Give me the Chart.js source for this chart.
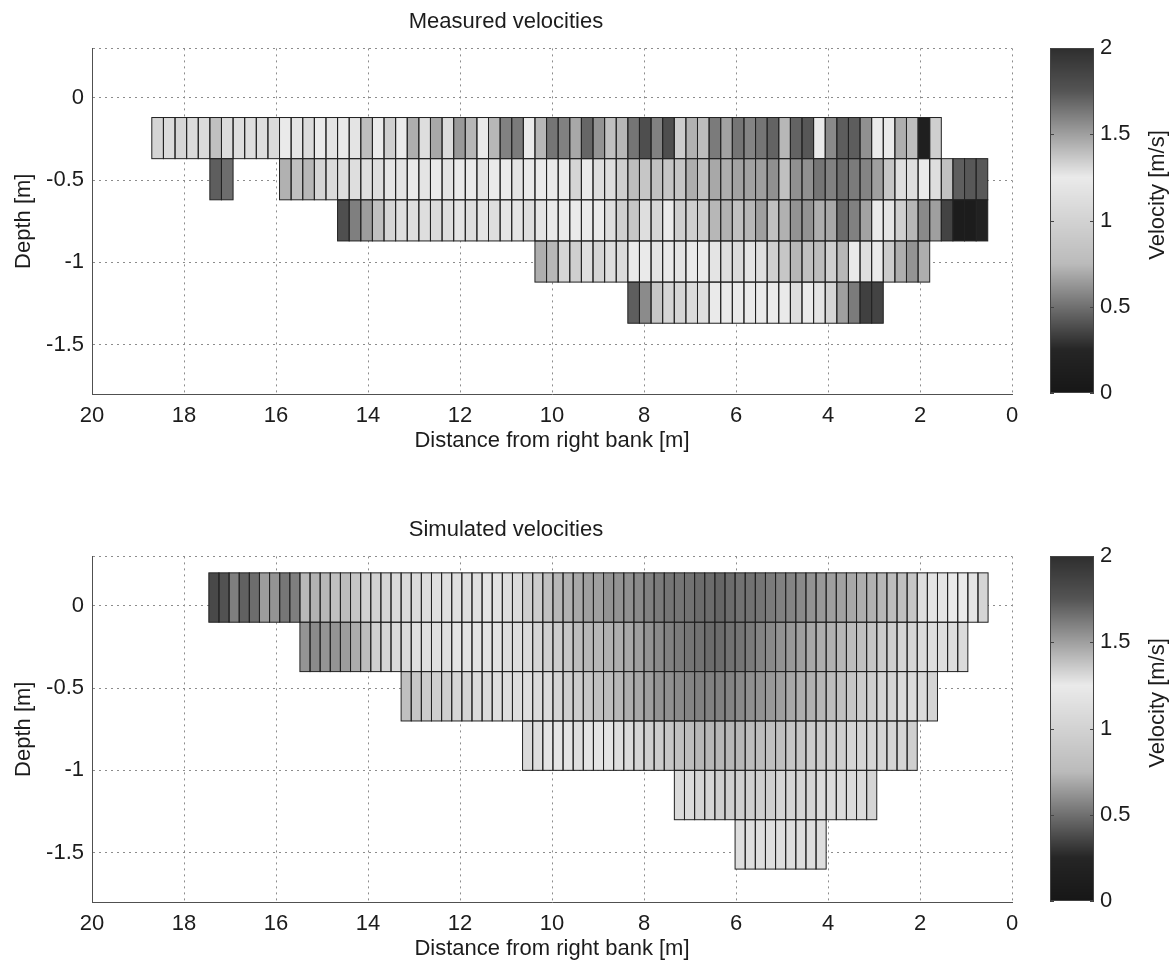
<!DOCTYPE html>
<html>
<head>
<meta charset="utf-8">
<script src="https://cdn.jsdelivr.net/npm/chart.js@4.4.1/dist/chart.umd.min.js"></script>
<style>
  body { margin: 0; background: #fff; overflow: hidden; }
  #wrap { position: relative; width: 1174px; height: 965px; overflow: hidden; background: #fff; }
  canvas { position: absolute; }
</style>
</head>
<body>
<div id="wrap">
  <canvas id="measured" width="1104" height="470" style="left:0;top:0"></canvas>
  <canvas id="measuredBar" width="144" height="470" style="left:1030px;top:0"></canvas>
  <canvas id="simulated" width="1104" height="470" style="left:0;top:508px"></canvas>
  <canvas id="simulatedBar" width="144" height="470" style="left:1030px;top:508px"></canvas>
</div>
<script>
// axis ticks
const xTicks = [0, 2, 4, 6, 8, 10, 12, 14, 16, 18, 20];
const yTicks = [-1.5, -1, -0.5, 0, 0.3];
const colorTicks = [0, 0.5, 1, 1.5, 2];

// measured cells: rows of velocities [m/s], first column index of each row, top depth of each row
const measuredDepthTop = [-0.12, -0.37, -0.62, -0.87, -1.12];
const measuredRowStart = [0, 5, 16, 33, 41];
const measuredX0 = 18.7;     // distance of first column edge [m]
const measuredDx = 0.2524;   // column width [m]
const measuredDz = 0.25;     // row height [m]

const measuredRow1 = [1.32,1.30,1.32,1.30,1.30,1.39,1.30,1.29,1.29,1.29,
  1.30,1.25,1.27,1.30,1.25,1.27,1.25,1.27,1.40,1.25,
  1.34,1.25,1.45,1.29,1.47,1.30,1.52,1.42,1.25,1.42,
  1.60,1.62,1.25,1.42,1.64,1.60,1.47,1.69,1.54,1.39,
  1.42,1.64,1.79,1.60,1.79,1.35,1.44,1.40,1.62,1.49,
  1.64,1.59,1.64,1.70,1.42,1.70,1.74,1.25,1.57,1.72,
  1.72,1.55,1.25,1.25,1.45,1.40,0.15,1.34];
const measuredRow2 = [0.44,0.49,null,null,null,null,
  1.44,1.39,1.42,1.32,1.30,1.29,1.29,1.29,1.29,1.27,
  1.27,1.25,1.27,1.25,1.27,1.25,1.25,1.27,1.25,1.25,
  1.27,1.25,1.25,1.25,1.25,1.32,1.25,1.29,1.29,1.34,
  1.40,1.37,1.39,1.37,1.37,1.45,1.39,1.47,1.45,1.49,
  1.49,1.50,1.55,1.39,1.55,1.55,1.64,1.60,1.67,1.62,
  1.59,1.50,1.37,1.29,1.29,1.25,1.29,1.39,0.44,0.42,0.42];
const measuredRow3 = [0.39,0.55,0.65,1.39,1.32,1.29,1.29,1.29,1.30,1.29,
  1.27,1.29,1.27,1.29,1.27,1.27,1.29,1.27,1.25,1.25,
  1.25,1.25,1.25,1.29,1.34,1.37,1.29,1.32,1.25,1.34,
  1.34,1.35,1.42,1.44,1.39,1.42,1.50,1.39,1.44,1.54,
  1.54,1.45,1.47,1.67,1.60,1.49,1.25,1.27,1.34,1.42,
  1.57,1.50,0.35,0.09,0.09,0.18];
const measuredRow4 = [1.45,1.42,1.32,1.34,1.29,1.32,1.29,1.30,1.25,1.25,
  1.27,1.25,1.27,1.25,1.25,1.27,1.29,1.30,1.27,1.29,
  1.34,1.37,1.42,1.39,1.40,1.34,1.42,1.25,1.29,1.25,
  1.35,1.45,1.54,1.45];
const measuredRow5 = [0.44,0.59,1.37,1.32,1.32,1.30,1.29,1.25,1.25,1.25,
  1.25,1.25,1.25,1.25,1.29,1.25,1.27,1.32,1.50,1.62,
  0.34,0.35];

// simulated cells
const simulatedDepthTop = [0.2, -0.1, -0.4, -0.7, -1.0, -1.3];
const simulatedRowStart = [0, 9, 19, 31, 46, 52];
const simulatedX0 = 17.46;
const simulatedDx = 0.22;
const simulatedDz = 0.3;

const simulatedRow1 = [0.37,0.40,0.55,0.45,0.49,0.65,0.62,0.52,0.55,0.74,
  0.72,0.74,0.81,0.76,0.87,0.97,1.00,1.03,1.08,1.08,
  1.08,1.10,1.13,1.13,1.13,1.13,1.13,1.19,1.27,1.29,
  1.30,1.34,1.35,1.39,1.42,1.44,1.47,1.50,1.50,1.54,
  1.54,1.55,1.57,1.60,1.62,1.64,1.64,1.65,1.67,1.67,
  1.69,1.67,1.65,1.65,1.64,1.62,1.60,1.59,1.57,1.54,
  1.52,1.50,1.49,1.47,1.45,1.44,1.42,1.40,1.39,1.37,
  1.29,1.27,1.27,1.25,1.25,1.19,1.03];
const simulatedRow2 = [0.62,0.59,0.62,0.62,0.65,0.70,0.76,0.97,1.03,1.08,
  1.08,1.13,1.13,1.13,1.13,1.19,1.19,1.19,1.19,
  1.27,1.29,1.29,1.30,1.32,1.34,1.35,1.37,1.40,
  1.42,1.42,1.44,1.45,1.47,1.50,1.54,1.57,1.60,1.62,
  1.64,1.65,1.67,1.67,1.65,1.64,1.62,1.59,1.57,1.54,
  1.52,1.50,1.47,1.45,1.44,1.42,1.40,1.39,1.37,1.35,
  1.34,1.32,1.32,1.30,1.29,1.29,1.29,1.30];
const simulatedRow3 = [1.39,1.37,1.35,1.34,1.34,1.32,1.32,1.30,1.30,1.29,
  1.29,1.29,1.29,1.30,1.30,1.32,1.34,1.35,
  1.37,1.39,1.40,1.42,1.45,1.47,1.50,1.54,1.55,1.57,
  1.59,1.60,1.60,1.60,1.59,1.57,1.55,1.54,1.52,1.50,
  1.47,1.45,1.44,1.42,1.40,1.39,1.37,1.35,1.34,1.32,
  1.32,1.30,1.30,1.30,1.32];
const simulatedRow4 = [1.30,1.29,1.27,1.27,1.27,1.29,
  1.27,1.27,1.27,1.29,1.30,1.32,1.34,1.35,1.37,1.39,
  1.40,1.42,1.42,1.42,1.42,1.42,1.40,1.40,1.39,1.39,
  1.37,1.37,1.35,1.35,1.34,1.34,1.32,1.32,1.32,1.32,
  1.32,1.32,1.34];
const simulatedRow5 = [1.30,1.30,1.32,1.32,1.34,1.34,1.34,1.34,1.34,1.34,
  1.32,1.32,1.32,1.32,1.30,1.30,1.30,1.30,1.30,1.32];
const simulatedRow6 = [1.29,1.29,1.29,1.29,1.29,1.29,1.29,1.29,1.29];

const fontFamily = "'Liberation Sans', Arial, sans-serif";
const fontSize = 22;
const textColor = '#1c1c1c';
Chart.defaults.font.family = fontFamily;
Chart.defaults.color = textColor;

// jet colormap printed in grayscale
function velocityColor(v) {
  const t = Math.min(1, Math.max(0, v / 2));
  const cl = (a) => Math.min(1, Math.max(0, a));
  const r = cl(1.5 - Math.abs(4 * t - 3));
  const g = cl(1.5 - Math.abs(4 * t - 2));
  const b = cl(1.5 - Math.abs(4 * t - 1));
  const lum = Math.round((0.299 * r + 0.587 * g + 0.114 * b) * 255 + 8);
  return 'rgb(' + lum + ',' + lum + ',' + lum + ')';
}

// draws the cells with the chart's x / y scales
const heatmapPlugin = {
  id: 'heatmap',
  beforeDatasetsDraw(chart, args, opts) {
    if (!opts.rows) return;
    const { ctx, chartArea, scales } = chart;
    const x = scales.x, y = scales.y;
    const rects = [];
    opts.rows.forEach((row, r) => {
      const top = y.getPixelForValue(opts.depthTop[r]);
      const bot = y.getPixelForValue(opts.depthTop[r] - opts.dz);
      row.forEach((v, k) => {
        if (v === null) return;
        const col = opts.rowStart[r] + k;
        const xa = x.getPixelForValue(opts.x0 - col * opts.dx);
        const xb = x.getPixelForValue(opts.x0 - (col + 1) * opts.dx);
        rects.push([Math.min(xa, xb), top, Math.abs(xb - xa), bot - top, v]);
      });
    });
    ctx.save();
    ctx.beginPath();
    ctx.rect(chartArea.left, chartArea.top, chartArea.right - chartArea.left, chartArea.bottom - chartArea.top);
    ctx.clip();
    rects.forEach(c => {
      ctx.fillStyle = velocityColor(c[4]);
      ctx.fillRect(c[0], c[1], c[2], c[3]);
    });
    ctx.strokeStyle = '#222';
    ctx.lineWidth = 1;
    rects.forEach(c => {
      ctx.strokeRect(c[0], c[1], c[2], c[3]);
    });
    ctx.restore();
  }
};

// colour bar drawn from its own y scale, one pixel row at a time
const colorbarPlugin = {
  id: 'colorbar',
  afterDraw(chart, args, opts) {
    if (!opts.show) return;
    const { ctx, chartArea } = chart;
    const y = chart.scales.y;
    const top = Math.round(chartArea.top), bottom = Math.round(chartArea.bottom);
    ctx.save();
    for (let p = top; p < bottom; p++) {
      ctx.fillStyle = velocityColor(y.getValueForPixel(p + 0.5));
      ctx.fillRect(chartArea.left, p, chartArea.right - chartArea.left, 1);
    }
    ctx.strokeStyle = '#444';
    ctx.lineWidth = 1;
    ctx.strokeRect(chartArea.left + 0.5, top + 0.5, chartArea.right - chartArea.left - 1, bottom - top - 1);
    colorTicks.forEach(v => {
      const p = Math.round(y.getPixelForValue(v)) + 0.5;
      ctx.beginPath();
      ctx.moveTo(chartArea.left, p); ctx.lineTo(chartArea.left + 4, p);
      ctx.moveTo(chartArea.right, p); ctx.lineTo(chartArea.right - 4, p);
      ctx.stroke();
    });
    ctx.fillStyle = textColor;
    ctx.font = fontSize + 'px ' + fontFamily;
    ctx.textAlign = 'center';
    ctx.textBaseline = 'middle';
    ctx.translate(opts.titleX, opts.titleY);
    ctx.rotate(-Math.PI / 2);
    ctx.fillText('Velocity [m/s]', 0, 0);
    ctx.restore();
  }
};

function makePanel(canvasId, barId, titleText, rows, depthTop, rowStart, x0, dx, dz) {
  new Chart(document.getElementById(canvasId), {
    type: 'scatter',
    data: { datasets: [] },
    plugins: [heatmapPlugin],
    options: {
      responsive: false,
      animation: false,
      devicePixelRatio: 1,
      layout: { padding: { left: 0, right: 92, top: 0, bottom: 0 } },
      plugins: {
        legend: { display: false },
        tooltip: { enabled: false },
        title: {
          display: true,
          text: titleText,
          color: textColor,
          font: { size: fontSize, weight: 'normal' },
          padding: { top: 9, bottom: 13 }
        },
        heatmap: { rows: rows, depthTop: depthTop, rowStart: rowStart, x0: x0, dx: dx, dz: dz }
      },
      scales: {
        x: {
          type: 'linear',
          min: 0, max: 20,
          reverse: true,
          afterBuildTicks: (axis) => { axis.ticks = xTicks.map(v => ({ value: v })); },
          afterFit: (axis) => { axis.height = 76; },
          ticks: { font: { size: fontSize }, padding: 9, maxRotation: 0, callback: (v) => String(v) },
          grid: { color: '#8c8c8c', lineWidth: 1, drawTicks: false },
          border: { display: true, color: '#505050', width: 1, dash: [2, 4] },
          title: { display: true, text: 'Distance from right bank [m]', font: { size: fontSize }, padding: { top: 0, bottom: 16 } }
        },
        y: {
          type: 'linear',
          min: -1.8, max: 0.3,
          afterBuildTicks: (axis) => { axis.ticks = yTicks.map(v => ({ value: v })); },
          afterFit: (axis) => { axis.width = 92; },
          ticks: { font: { size: fontSize }, padding: 8, callback: (v) => (v === 0.3 ? '' : String(v)) },
          grid: { color: '#8c8c8c', lineWidth: 1, drawTicks: false },
          border: { display: true, color: '#505050', width: 1, dash: [2, 4] },
          title: { display: true, text: 'Depth [m]', font: { size: fontSize }, padding: { top: 11, bottom: 0 } }
        }
      }
    }
  });

  new Chart(document.getElementById(barId), {
    type: 'scatter',
    data: { datasets: [] },
    plugins: [colorbarPlugin],
    options: {
      responsive: false,
      animation: false,
      devicePixelRatio: 1,
      layout: { padding: { left: 20, right: 0, top: 48, bottom: 77 } },
      plugins: {
        legend: { display: false },
        tooltip: { enabled: false },
        colorbar: { show: true, titleX: 128, titleY: 195 }
      },
      scales: {
        x: { display: false, min: 0, max: 1 },
        y: {
          position: 'right',
          min: 0, max: 2,
          afterBuildTicks: (axis) => { axis.ticks = colorTicks.map(v => ({ value: v })); },
          afterFit: (axis) => { axis.width = 80; },
          ticks: { font: { size: fontSize }, padding: 6, callback: (v) => String(v) },
          grid: { display: false, drawTicks: false },
          border: { display: false }
        }
      }
    }
  });
}

makePanel('measured', 'measuredBar', 'Measured velocities',
  [measuredRow1, measuredRow2, measuredRow3, measuredRow4, measuredRow5],
  measuredDepthTop, measuredRowStart, measuredX0, measuredDx, measuredDz);

makePanel('simulated', 'simulatedBar', 'Simulated velocities',
  [simulatedRow1, simulatedRow2, simulatedRow3, simulatedRow4, simulatedRow5, simulatedRow6],
  simulatedDepthTop, simulatedRowStart, simulatedX0, simulatedDx, simulatedDz);
</script>
</body>
</html>
